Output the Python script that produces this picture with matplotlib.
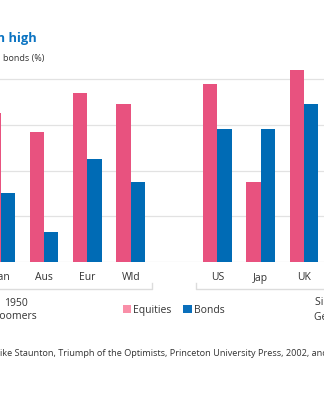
import matplotlib
matplotlib.use("Agg")
import matplotlib.pyplot as plt
import numpy as np
from matplotlib.lines import Line2D
from matplotlib.patches import Rectangle
from matplotlib.transforms import blended_transform_factory

plt.rcParams['font.family'] = ['Open Sans', 'DejaVu Sans']

# ---- data ----
left_countries = ["Can", "Aus", "Eur", "Wld"]
right_countries = ["US", "Jap", "UK"]
left_equities = [6.5, 5.7, 7.4, 6.9]
left_bonds = [3.0, 1.3, 4.5, 3.5]
right_equities = [7.8, 3.5, 8.4]
right_bonds = [5.8, 5.8, 6.9]
y_ticks = [0, 2, 4, 6, 8]

title_text = "Real returns have been high"
subtitle_head = "Real annualised returns on equities and"
subtitle_tail = "bonds (%)"
left_group = ["1950", "Baby boomers"]
right_group = ["Since 1990", "Generation Y"]
source_text = "ike Staunton, Triumph of the Optimists, Princeton University Press, 2002, and others"

PINK = "#e8527f"
BLUE = "#006bb5"
LEG_PINK = "#f98fa8"
LEG_BLUE = "#0a6fbb"
GRID = "#e2e2e2"
TXT = "#333333"

W, H = 324, 400
fig = plt.figure(figsize=(W / 100, H / 100), dpi=100)

def fx(px):
    return px / W

def fy(py):
    return 1 - py / H

ax = fig.add_axes([0, fy(262), 1, fy(66) - fy(262)])

countries = left_countries + right_countries
equities = left_equities + right_equities
bonds = left_bonds + right_bonds
positions = list(range(len(left_countries))) + [len(left_countries) + 1 + i for i in range(len(right_countries))]
positions = np.array(positions, dtype=float)

bw = 0.333
ax.bar(positions - bw, equities, width=bw, align='edge', color=PINK, zorder=3, linewidth=0)
ax.bar(positions, bonds, width=bw, align='edge', color=BLUE, zorder=3, linewidth=0)

c0 = 0.68 / 43.33
ax.set_xlim(-c0, (W - 0.68) / 43.33)
ax.set_ylim(0, (262 - 66) / 22.85)
ax.set_yticks(y_ticks)
for t in y_ticks:
    ax.axhline(t, color=GRID, lw=0.9, zorder=1)
ax.set_yticklabels([])
ax.tick_params(axis='y', length=0)
ax.set_xticks([])
for s in ax.spines.values():
    s.set_visible(False)

bt = blended_transform_factory(ax.transData, fig.transFigure)
for p, c in zip(positions, countries):
    ax.text(p, fy(280.5), c, transform=bt, ha='center', va='baseline',
            fontsize=7.5, color=TXT)

# group brackets
gy, gy2 = fy(289), fy(282.5)
lx = len(left_countries) - 0.5
rx = len(left_countries) + 0.5
fig.add_artist(Line2D([-1, lx, lx], [gy, gy, gy2], transform=bt, color='#dcdcdc', lw=1))
fig.add_artist(Line2D([rx, rx, 20], [gy2, gy, gy], transform=bt, color='#dcdcdc', lw=1))

# group labels
fig.text(fx(27.3), fy(305.7), left_group[0], ha='right', va='baseline', fontsize=7.5, color=TXT)
fig.text(fx(36.7), fy(319.3), left_group[1], ha='right', va='baseline', fontsize=7.5, color=TXT)
fig.text(fx(314.8), fy(305.3), right_group[0], ha='left', va='baseline', fontsize=7.5, color=TXT)
fig.text(fx(314.0), fy(319.8), right_group[1], ha='left', va='baseline', fontsize=7.5, color=TXT)

# legend
fig.add_artist(Rectangle((fx(123.0), fy(313.3)), fx(8.2), fy(305) - fy(313.3), transform=fig.transFigure,
                         color=LEG_PINK, lw=0))
fig.text(fx(132.8), fy(313.3), "Equities", ha='left', va='baseline', fontsize=7.5, color=TXT)
fig.add_artist(Rectangle((fx(183.3), fy(313.3)), fx(8.4), fy(305) - fy(313.3), transform=fig.transFigure,
                         color=LEG_BLUE, lw=0))
fig.text(fx(194.3), fy(313.3), "Bonds", ha='left', va='baseline', fontsize=7.5, color=TXT)

# title / subtitle
fig.text(fx(36.7), fy(42.3), title_text, ha='right', va='baseline', fontsize=9.3,
         fontweight='bold', color='#0b74c2')
fig.text(fx(-0.8), fy(61.5), subtitle_head, ha='right', va='baseline', fontsize=6.5, color=TXT)
fig.text(fx(3.3), fy(61.5), subtitle_tail, ha='left', va='baseline', fontsize=6.5, color=TXT)

# source
fig.text(fx(0.5), fy(356.5), source_text, ha='left', va='baseline', fontsize=6.6, color=TXT)

fig.savefig("out.png", dpi=100)
